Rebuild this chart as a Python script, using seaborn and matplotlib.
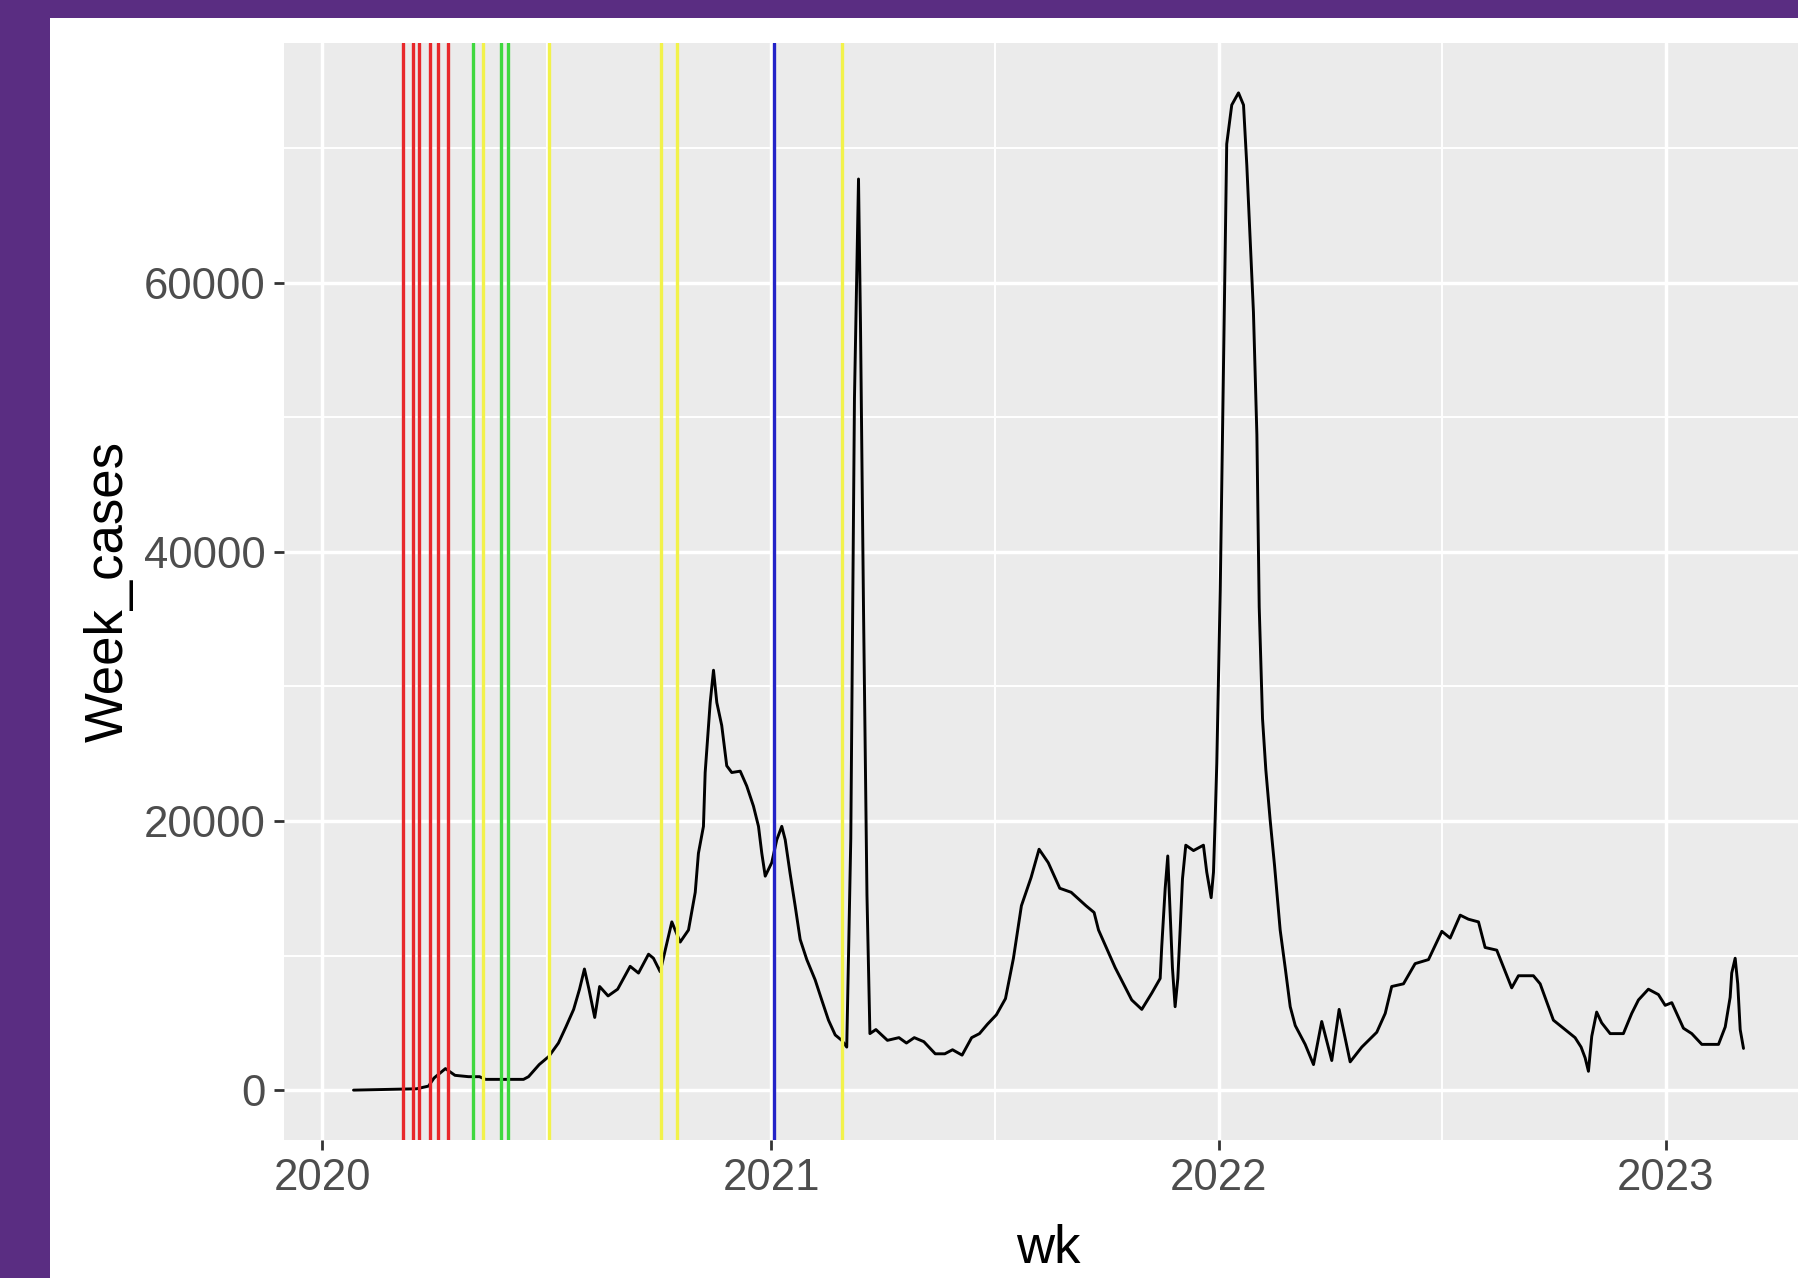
import numpy as np
import pandas as pd
import matplotlib
matplotlib.use("Agg")
import matplotlib.pyplot as plt
import matplotlib.dates as mdates
import seaborn as sns
from matplotlib.patches import Rectangle
from matplotlib.ticker import FixedLocator, FixedFormatter

# ---- data ----
# days since 2020-01-01 for each vertex of the weekly-cases line
wk_day = [25.3, 76.7, 86.5, 91.0, 100.3, 108.1, 119.1, 128.1, 133.0, 143.6, 164.0, 168.1,
          176.8, 184.6, 192.5, 198.6, 204.9, 209.7, 213.7, 217.4, 222.1, 226.1, 233.0, 240.8,
          251.0, 257.8, 266.0, 270.0, 275.5, 285.0, 291.8, 298.6, 304.1, 306.7, 310.8, 312.2,
          316.3, 319.0, 321.7, 325.7, 329.8, 333.9, 340.8, 346.1, 351.6, 355.7, 358.4, 361.2,
          366.5, 370.6, 374.7, 377.5, 381.5, 385.6, 389.7, 395.1, 401.9, 407.3, 412.8, 418.3,
          423.6, 427.7, 431.0, 434.0, 437.3, 438.9, 441.4, 444.2, 446.6, 451.5, 460.9, 470.3,
          476.4, 482.8, 490.6, 499.9, 507.7, 514.0, 521.8, 529.6, 536.0, 542.5, 549.8, 557.2,
          563.7, 570.2, 578.1, 584.6, 592.1, 601.5, 610.8, 622.9, 629.5, 633.1, 646.7, 660.2,
          668.4, 676.5, 683.4, 684.7, 687.5, 689.6, 691.0, 693.4, 695.6, 697.8, 699.7, 701.6,
          704.3, 710.6, 718.7, 721.4, 725.0, 726.9, 728.3, 729.6, 732.4, 735.9, 737.7, 741.8,
          747.3, 751.4, 754.1, 756.8, 759.5, 762.3, 764.2, 766.9, 769.6, 773.2, 776.7, 781.3,
          785.4, 789.5, 793.6, 801.7, 808.5, 815.2, 823.4, 829.4, 838.4, 847.9, 860.1, 867.0,
          872.3, 881.9, 891.4, 902.3, 913.2, 920.0, 928.2, 934.9, 943.1, 948.5, 958.0, 970.2,
          975.7, 987.9, 993.4, 1004.2, 1021.9, 1026.8, 1030.1, 1032.8, 1035.5, 1039.5, 1043.6,
          1050.5, 1061.3, 1068.1, 1073.6, 1081.7, 1089.9, 1095.4, 1100.8, 1110.3, 1117.1,
          1125.3, 1138.9, 1144.4, 1148.4, 1149.7, 1152.5, 1154.6, 1156.6, 1159.3]

week_cases = [0, 100, 300, 900, 1600, 1100, 1000, 1000, 800, 800, 800, 1000,
              1900, 2500, 3500, 4700, 6000, 7500, 9000, 7500, 5400, 7700, 7000, 7500,
              9200, 8700, 10100, 9800, 8800, 12500, 11000, 11900, 14700, 17600, 19600, 23600,
              28800, 31200, 28800, 27100, 24100, 23600, 23700, 22600, 21100, 19600, 17600, 15900,
              16900, 18600, 19600, 18600, 16100, 13700, 11200, 9700, 8200, 6700, 5200, 4100,
              3700, 3200, 18700, 51400, 67700, 57000, 35600, 14500, 4200, 4500, 3700, 3900,
              3500, 3900, 3600, 2700, 2700, 3000, 2600, 3900, 4200, 4900, 5600, 6800,
              9800, 13700, 15800, 17900, 16900, 15000, 14700, 13700, 13200, 11900, 9100, 6700,
              6000, 7200, 8300, 10700, 15000, 17400, 14300, 9100, 6200, 8300, 11900, 15700,
              18200, 17800, 18200, 16200, 14300, 16200, 20200, 24300, 37100, 58700, 70300, 73200,
              74100, 73200, 68700, 63200, 57800, 48700, 35900, 27600, 23800, 20000, 16700, 11900,
              9100, 6200, 4800, 3400, 1900, 5100, 2200, 6000, 2100, 3200, 4300, 5700,
              7700, 7900, 9400, 9700, 11800, 11300, 13000, 12700, 12500, 10600, 10400, 7600,
              8500, 8500, 7900, 5200, 3900, 3200, 2400, 1400, 4000, 5800, 5000,
              4200, 4200, 5700, 6700, 7500, 7100, 6300, 6500, 4600, 4200,
              3400, 3400, 4700, 6900, 8700, 9800, 7900, 4500, 3100]

red_dates = ["2020-03-07", "2020-03-15", "2020-03-20", "2020-03-29", "2020-04-04", "2020-04-12"]
green_dates = ["2020-05-03", "2020-05-26", "2020-05-31"]
yellow_dates = ["2020-05-11", "2020-07-04", "2020-10-03", "2020-10-16", "2021-02-28"]
blue_dates = ["2021-01-03"]

year_breaks = [2020, 2021, 2022, 2023]
y_breaks = [0, 20000, 40000, 60000]

df = pd.DataFrame({
    "wk": pd.Timestamp("2020-01-01") + pd.to_timedelta(wk_day, unit="D"),
    "Week_cases": week_cases,
})

# ---- style ----
sns.set_theme(style="darkgrid")
plt.rcParams["font.family"] = ["Liberation Sans", "DejaVu Sans"]

W, H = 1799, 1278
fig = plt.figure(figsize=(W / 100, H / 100), dpi=100)
fig.patch.set_facecolor("white")
purple = "#5A2D82"
fig.patches.append(Rectangle((0, 1 - 18 / H), 1, 18 / H, transform=fig.transFigure,
                             facecolor=purple, edgecolor="none", zorder=0))
fig.patches.append(Rectangle((0, 0), 50 / W, 1, transform=fig.transFigure,
                             facecolor=purple, edgecolor="none", zorder=0))

px_left, px_right, px_top, px_bottom = 284, 1813, 43, 1140
ax = fig.add_axes([px_left / W, 1 - px_bottom / H,
                   (px_right - px_left) / W, (px_bottom - px_top) / H])
ax.set_facecolor("#EBEBEB")
for s in ax.spines.values():
    s.set_visible(False)

sns.lineplot(data=df, x="wk", y="Week_cases", color="black", linewidth=2.1,
             ax=ax, zorder=3, sort=False)

for dates, col in [(red_dates, "#E8282B"), (green_dates, "#3FD83F"),
                   (yellow_dates, "#F2F24A"), (blue_dates, "#2323C8")]:
    for d in dates:
        ax.axvline(pd.Timestamp(d), color=col, linewidth=2.4, zorder=4)

# ggplot-like 5% expansion
xn = mdates.date2num(df["wk"])
xlo, xhi = xn.min(), xn.max()
xp = 0.05 * (xhi - xlo)
ax.set_xlim(xlo - xp, xhi + xp)
ylo, yhi = 0, max(week_cases)
yp = 0.05 * (yhi - ylo)
ax.set_ylim(ylo - yp, yhi + yp)

major_x = [mdates.date2num(pd.Timestamp(f"{y}-01-01")) for y in year_breaks]
all_years = [mdates.date2num(pd.Timestamp(f"{y}-01-01")) for y in range(year_breaks[0] - 1, year_breaks[-1] + 2)]
minor_x = [(a + b) / 2 for a, b in zip(all_years[:-1], all_years[1:])]
ax.xaxis.set_major_locator(FixedLocator(major_x))
ax.xaxis.set_major_formatter(FixedFormatter([str(y) for y in year_breaks]))
ax.xaxis.set_minor_locator(FixedLocator(minor_x))
ax.yaxis.set_major_locator(FixedLocator(y_breaks))
ax.yaxis.set_major_formatter(FixedFormatter([str(v) for v in y_breaks]))
ax.yaxis.set_minor_locator(FixedLocator([v + 10000 for v in y_breaks]))

ax.set_axisbelow(True)
ax.grid(which="major", color="white", linewidth=2.5)
ax.grid(which="minor", color="white", linewidth=1.4)

ax.tick_params(axis="both", which="major", bottom=True, left=True, length=7.2, width=2.0,
               color="#333333", labelsize=31.5, labelcolor="#4D4D4D", pad=6)
ax.tick_params(axis="both", which="minor", length=0)

ax.set_xlabel("wk", fontsize=38, color="black")
ax.set_ylabel("Week_cases", fontsize=38, color="black")
ax.xaxis.set_label_coords(0.5, -(1224 - px_bottom) / (px_bottom - px_top))
ax.yaxis.set_label_coords((134 - px_left) / (px_right - px_left), 0.5)

fig.savefig("out.png", dpi=100, facecolor=fig.get_facecolor())
